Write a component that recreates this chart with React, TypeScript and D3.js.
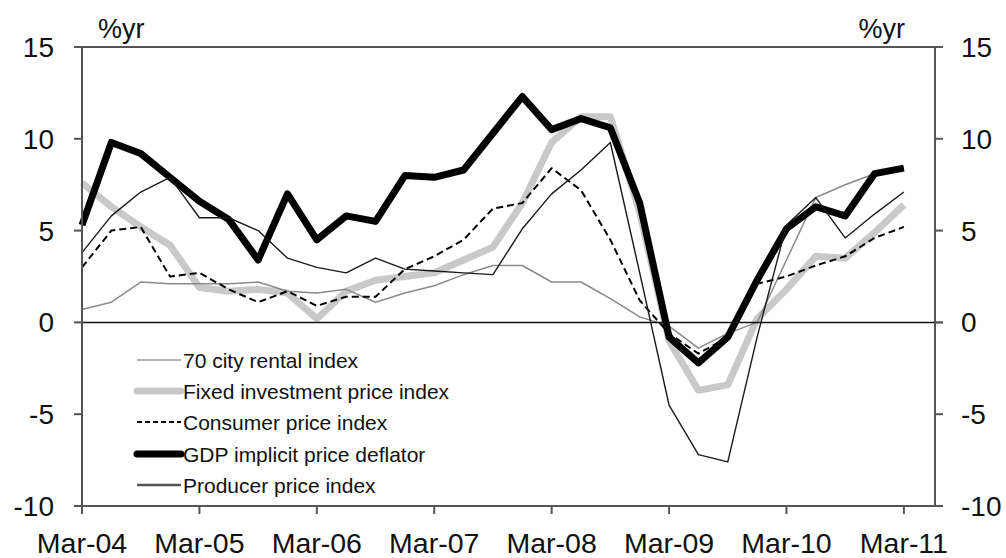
import React from "react";
import * as d3 from "d3";

const quarters = [
  "Mar-04","Jun-04","Sep-04","Dec-04","Mar-05","Jun-05","Sep-05","Dec-05",
  "Mar-06","Jun-06","Sep-06","Dec-06","Mar-07","Jun-07","Sep-07","Dec-07",
  "Mar-08","Jun-08","Sep-08","Dec-08","Mar-09","Jun-09","Sep-09","Dec-09",
  "Mar-10","Jun-10","Sep-10","Dec-10","Mar-11",
];

const rentalIndex = [0.7, 1.1, 2.2, 2.1, 2.1, 2.1, 2.2, 1.7, 1.6, 1.8, 1.1, 1.6, 2.0, 2.6, 3.1, 3.1, 2.2, 2.2, 1.3, 0.3, -0.2, -1.4, -0.6, 0.0, 3.4, 6.8, 7.5, 8.1, 8.4];
const fixedInvestment = [7.6, 6.3, 5.2, 4.2, 1.9, 1.7, 1.8, 1.6, 0.2, 1.7, 2.3, 2.5, 2.7, 3.4, 4.1, 6.5, 9.8, 11.2, 11.2, 6.0, -1.0, -3.7, -3.4, 0.2, 1.8, 3.6, 3.5, 4.9, 6.4];
const consumerPrice = [3.0, 5.0, 5.2, 2.5, 2.7, 1.8, 1.1, 1.7, 0.9, 1.4, 1.4, 2.9, 3.6, 4.5, 6.2, 6.5, 8.4, 7.2, 4.5, 1.2, -0.6, -1.7, -0.8, 2.1, 2.5, 3.1, 3.6, 4.6, 5.2];
const gdpDeflator = [5.3, 9.8, 9.2, 7.9, 6.6, 5.6, 3.4, 7.0, 4.5, 5.8, 5.5, 8.0, 7.9, 8.3, 10.3, 12.3, 10.5, 11.1, 10.6, 6.5, -0.8, -2.2, -0.8, 2.3, 5.1, 6.3, 5.8, 8.1, 8.4];
const producerPrice = [3.8, 5.8, 7.1, 7.9, 5.7, 5.7, 5.0, 3.5, 3.0, 2.7, 3.5, 2.9, 2.8, 2.7, 2.6, 5.1, 7.0, 8.3, 9.8, 2.7, -4.5, -7.2, -7.6, -0.8, 5.3, 6.8, 4.6, 5.9, 7.1];

const yTicks = [15, 10, 5, 0, -5, -10];
const xTickLabels = ["Mar-04","Mar-05","Mar-06","Mar-07","Mar-08","Mar-09","Mar-10","Mar-11"];
const legendLabels = [
  "70 city rental index",
  "Fixed investment price index",
  "Consumer price index",
  "GDP implicit price deflator",
  "Producer price index",
];

const W = 1006, H = 558;
const left = 82, right = 935, top = 47, bottom = 506;
const FONT = "'Liberation Sans', Arial, Helvetica, sans-serif";

export default function App() {
  const x = d3.scaleLinear().domain([0, 29.06]).range([left, right]);
  const y = d3.scaleLinear().domain([-10, 15]).range([bottom, top]);
  const line = d3.line<number>().x((_, i) => x(i)).y((d) => y(d));

  const series = [
    { data: fixedInvestment, stroke: "#c9c9c9", width: 7, dash: undefined },
    { data: rentalIndex, stroke: "#8a8a8a", width: 1.5, dash: undefined },
    { data: gdpDeflator, stroke: "#000", width: 7, dash: undefined },
    { data: consumerPrice, stroke: "#000", width: 2, dash: "7,4" },
    { data: producerPrice, stroke: "#1a1a1a", width: 1.4, dash: undefined },
  ];

  const legendStyles = [
    { stroke: "#9a9a9a", width: 1.5, dash: undefined },
    { stroke: "#c9c9c9", width: 7, dash: undefined },
    { stroke: "#000", width: 2, dash: "5,3" },
    { stroke: "#000", width: 7, dash: undefined },
    { stroke: "#555", width: 2.5, dash: undefined },
  ];
  const legendY = [360, 391, 422, 454, 485];

  const axisColor = "#555";

  return (
    <svg width={W} height={H} style={{ position: "absolute", left: 0, top: 0, background: "#fff" }} fontFamily={FONT}>
      <rect x={0} y={0} width={W} height={H} fill="#fff" />
      {series.map((s, k) => (
        <path key={k} d={line(s.data) || ""} fill="none" stroke={s.stroke} strokeWidth={s.width}
          strokeDasharray={s.dash} strokeLinejoin="round" strokeLinecap="butt" />
      ))}
      <line x1={left} x2={right + 8} y1={y(0)} y2={y(0)} stroke="#111" strokeWidth={1.5} />
      <line x1={left - 8} x2={right + 8} y1={top} y2={top} stroke={axisColor} strokeWidth={2} />
      <line x1={left - 8} x2={right + 8} y1={bottom} y2={bottom} stroke={axisColor} strokeWidth={2} />
      <line x1={left} x2={left} y1={top} y2={bottom + 8} stroke={axisColor} strokeWidth={2} />
      <line x1={right} x2={right} y1={top} y2={bottom} stroke={axisColor} strokeWidth={2} />
      {yTicks.map((t) => (
        <g key={t}>
          <line x1={left - 8} x2={left} y1={y(t)} y2={y(t)} stroke={axisColor} strokeWidth={2} />
          <line x1={right} x2={right + 8} y1={y(t)} y2={y(t)} stroke={axisColor} strokeWidth={2} />
          <text x={54} y={y(t)} dy="0.36em" textAnchor="end" fontSize={28} fill="#111">{t}</text>
          <text x={961} y={y(t)} dy="0.36em" textAnchor="start" fontSize={28} fill="#111">{t}</text>
        </g>
      ))}
      {xTickLabels.map((lab) => {
        const i = quarters.indexOf(lab);
        return (
          <g key={lab}>
            <line x1={x(i)} x2={x(i)} y1={bottom} y2={bottom + 8} stroke={axisColor} strokeWidth={2} />
            <text x={x(i)} y={553} textAnchor="middle" fontSize={28.5} fill="#111">{lab}</text>
          </g>
        );
      })}
      <text x={98} y={38} fontSize={27} fill="#111">%yr</text>
      <text x={905} y={38} textAnchor="end" fontSize={27} fill="#111">%yr</text>
      {legendLabels.map((lab, k) => (
        <g key={lab}>
          <line x1={137} x2={181} y1={legendY[k]} y2={legendY[k]} stroke={legendStyles[k].stroke}
            strokeWidth={legendStyles[k].width} strokeDasharray={legendStyles[k].dash}
            strokeLinecap={legendStyles[k].width > 5 ? "round" : "butt"} />
          <text x={183} y={legendY[k]} dy="0.36em" fontSize={21} fill="#111">{lab}</text>
        </g>
      ))}
    </svg>
  );
}
